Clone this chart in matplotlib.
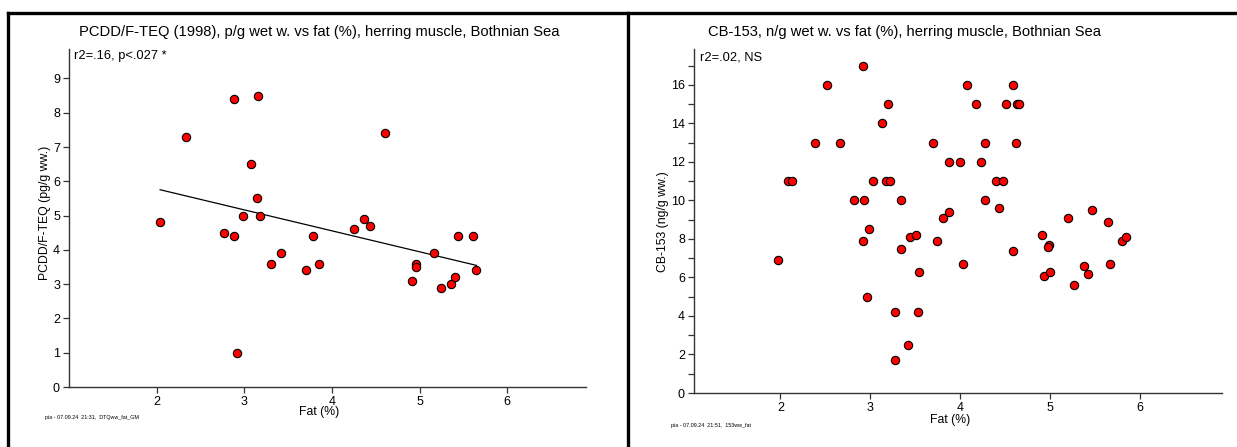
import numpy as np
import matplotlib
matplotlib.use("Agg")
import matplotlib.pyplot as plt
from matplotlib.lines import Line2D

plt.rcParams['font.family'] = ['Liberation Sans', 'DejaVu Sans']

# Left panel: PCDD/F-TEQ vs fat
teq_fat = [2.04, 2.33, 2.88, 3.16, 3.08, 3.15, 2.98, 3.18, 2.77, 2.88, 2.92, 3.31, 3.42,
           3.70, 3.79, 3.85, 4.25, 4.37, 4.44, 4.61, 4.91, 4.96, 4.96, 5.17, 5.24, 5.36,
           5.40, 5.44, 5.61, 5.65]
teq_val = [4.8, 7.3, 8.4, 8.5, 6.5, 5.5, 5.0, 5.0, 4.5, 4.4, 1.0, 3.6, 3.9,
           3.4, 4.4, 3.6, 4.6, 4.9, 4.7, 7.4, 3.1, 3.6, 3.5, 3.9, 2.9, 3.0,
           3.2, 4.4, 4.4, 3.4]

# Right panel: CB-153 vs fat
cb_fat = [1.97, 2.09, 2.13, 2.38, 2.52, 2.66, 2.82, 2.92, 2.93, 2.92, 2.98, 2.96, 3.03,
          3.13, 3.20, 3.18, 3.22, 3.28, 3.27, 3.34, 3.34, 3.42, 3.44, 3.51, 3.53, 3.54,
          3.70, 3.74, 3.81, 3.88, 3.88, 4.00, 4.03, 4.08, 4.18, 4.23, 4.28, 4.28, 4.40,
          4.43, 4.47, 4.51, 4.59, 4.59, 4.62, 4.63, 4.65, 4.91, 4.93, 4.99, 4.98, 5.00,
          5.20, 5.26, 5.38, 5.42, 5.47, 5.64, 5.67, 5.80, 5.84]
cb_val = [6.9, 11.0, 11.0, 13.0, 16.0, 13.0, 10.0, 17.0, 10.0, 7.9, 8.5, 5.0, 11.0,
          14.0, 15.0, 11.0, 11.0, 4.2, 1.7, 10.0, 7.5, 2.5, 8.1, 8.2, 4.2, 6.3,
          13.0, 7.9, 9.1, 9.4, 12.0, 12.0, 6.7, 16.0, 15.0, 12.0, 13.0, 10.0, 11.0,
          9.6, 11.0, 15.0, 16.0, 7.4, 13.0, 15.0, 15.0, 8.2, 6.1, 7.7, 7.6, 6.3,
          9.1, 5.6, 6.6, 6.2, 9.5, 8.9, 6.7, 7.9, 8.1]

x_ticks = [2, 3, 4, 5, 6]
teq_yticks = list(range(0, 10))
cb_yticks = list(range(0, 17, 2))
cb_yminor = list(range(1, 18, 2))

W, H = 1237, 447
fig = plt.figure(figsize=(W / 100, H / 100), dpi=100)

spine_col = '#333333'

def style_ax(ax):
    for s in ['top', 'right']:
        ax.spines[s].set_visible(False)
    for s in ['left', 'bottom']:
        ax.spines[s].set_color(spine_col)
        ax.spines[s].set_linewidth(1.0)
    ax.tick_params(axis='both', which='both', direction='out', length=4.5, width=0.9,
                   color=spine_col, labelsize=9, pad=2)
    ax.set_facecolor('white')

MS, MEW = 6.0, 0.8

# Left axes
ax1 = fig.add_axes([69 / W, 1 - 387 / H, 517 / W, 338 / H])
style_ax(ax1)
ax1.set_xlim(1.0, 6.9)
ax1.set_ylim(0, 9.86)
ax1.set_xticks(x_ticks)
ax1.set_yticks(teq_yticks)
xf = np.array(teq_fat)
slope, inter = np.polyfit(xf, np.array(teq_val), 1)
xl = np.array([xf.min(), xf.max()])
ax1.plot(xl, slope * xl + inter, color='black', lw=0.9, zorder=2)
ax1.plot(teq_fat, teq_val, 'o', ms=MS, mfc='#ff0000', mec='black', mew=MEW,
         ls='none', zorder=3, clip_on=False)

# Right axes
ax2 = fig.add_axes([694 / W, 1 - 393 / H, 528 / W, 344 / H])
style_ax(ax2)
ax2.set_xlim(1.04, 6.91)
ax2.set_ylim(0, 17.87)
ax2.set_xticks(x_ticks)
ax2.set_yticks(cb_yticks)
ax2.set_yticks(cb_yminor, minor=True)
ax2.plot(cb_fat, cb_val, 'o', ms=MS, mfc='#ff0000', mec='black', mew=MEW,
         ls='none', zorder=3, clip_on=False)

# Titles and labels
fig.text(319 / W, 1 - 32 / H,
         'PCDD/F-TEQ (1998), p/g wet w. vs fat (%), herring muscle, Bothnian Sea',
         ha='center', va='center', fontsize=10.6)
fig.text(905 / W, 1 - 32 / H,
         'CB-153, n/g wet w. vs fat (%), herring muscle, Bothnian Sea',
         ha='center', va='center', fontsize=10.6)
fig.text(74 / W, 1 - 56 / H, 'r2=.16, p<.027 *', ha='left', va='center', fontsize=9.3)
fig.text(700 / W, 1 - 57 / H, 'r2=.02, NS', ha='left', va='center', fontsize=9.3)
fig.text(45 / W, 1 - 213 / H, 'PCDD/F-TEQ (pg/g ww.)', rotation=90,
         ha='center', va='center', fontsize=8.8)
fig.text(663 / W, 1 - 222 / H, 'CB-153 (ng/g ww.)', rotation=90,
         ha='center', va='center', fontsize=8.8)
fig.text(319 / W, 1 - 412 / H, 'Fat (%)', ha='center', va='center', fontsize=8.8)
fig.text(950 / W, 1 - 420 / H, 'Fat (%)', ha='center', va='center', fontsize=8.8)
fig.text(45 / W, 1 - 418 / H, 'pia - 07.09.24  21:31,  DTQww_fat_GM',
         ha='left', va='center', fontsize=3.9)
fig.text(671 / W, 1 - 426 / H, 'pia - 07.09.24  21:51,  153ww_fat',
         ha='left', va='center', fontsize=3.9)

# Frame lines
lw = 2.4
fig.add_artist(Line2D([8 / W, 1.0], [1 - 13 / H, 1 - 13 / H], color='black', lw=lw,
                      transform=fig.transFigure))
fig.add_artist(Line2D([8 / W, 8 / W], [0, 1 - 13 / H], color='black', lw=lw,
                      transform=fig.transFigure))
fig.add_artist(Line2D([628 / W, 628 / W], [0, 1 - 13 / H], color='black', lw=lw,
                      transform=fig.transFigure))

fig.savefig('out.png', dpi=100, facecolor='white')
